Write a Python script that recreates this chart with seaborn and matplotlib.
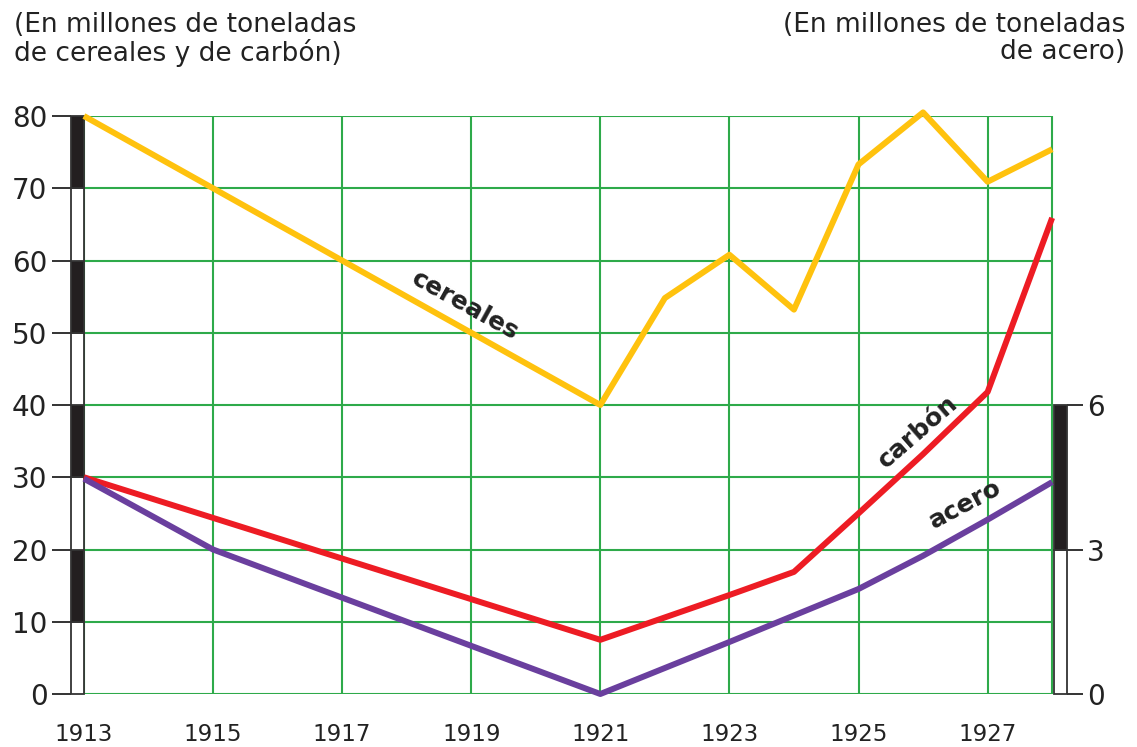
import matplotlib
matplotlib.use('Agg')
import matplotlib.pyplot as plt
import seaborn as sns
import pandas as pd

sns.set_style('white')
plt.rcParams['font.family'] = ['DejaVu Sans']

# Data ------------------------------------------
cereales_years = [1913, 1921, 1922, 1923, 1924, 1925, 1926, 1927, 1928]
cereales = [80, 40, 54.8, 60.8, 53.2, 73.3, 80.5, 70.9, 75.4]

carbon_years = [1913, 1921, 1923, 1924, 1925, 1926, 1927, 1928]
carbon = [30, 7.5, 13.7, 16.9, 25.0, 33.2, 41.8, 65.9]

# steel is read on the right axis (millions of tons)
acero_years = [1913, 1915, 1921, 1923, 1925, 1926, 1927, 1928]
acero = [4.47, 3.0, 0.0, 1.08, 2.18, 2.87, 3.62, 4.4]

year_ticks = [1913, 1915, 1917, 1919, 1921, 1923, 1925, 1927]
left_ticks = [0, 10, 20, 30, 40, 50, 60, 70, 80]
right_ticks = [0, 3, 6]

GREEN = '#2eaa4a'
TXT = '#222222'

df_cer = pd.DataFrame({'year': cereales_years, 'val': cereales})
df_car = pd.DataFrame({'year': carbon_years, 'val': carbon})
df_ace = pd.DataFrame({'year': acero_years, 'val': acero})

fig = plt.figure(figsize=(11.37, 7.47), dpi=100)
ax = fig.add_axes([0.06245, 0.07095, 0.87599, 0.77376])
ax.set_xlim(1912.80, 1928.23)
ax.set_ylim(0, 80)
ax2 = ax.twinx()
ax2.set_ylim(0, 12)

# grid drawn only inside the year range
ax.hlines(left_ticks, 1913, 1928, color=GREEN, lw=1.5, zorder=1)
ax.vlines(year_ticks + [1928], 0, 80, color=GREEN, lw=1.5, zorder=1)

# striped scale bars
seg_bottoms = left_ticks[:-1]
seg_colors = ['white' if i % 2 == 0 else '#231f20' for i in range(len(seg_bottoms))]
ax.bar([1912.9] * len(seg_bottoms), [10] * len(seg_bottoms), bottom=seg_bottoms,
       width=0.2, color=seg_colors, edgecolor='#333333', linewidth=1.3, zorder=3, clip_on=False)
ax2.bar([1928.13, 1928.13], [3, 3], bottom=right_ticks[:2], width=0.2,
        color=['white', '#231f20'], edgecolor='#333333', linewidth=1.3, zorder=3, clip_on=False)

# lines
sns.lineplot(data=df_cer, x='year', y='val', ax=ax, color='#ffc20e', lw=4.3, zorder=4)
sns.lineplot(data=df_car, x='year', y='val', ax=ax, color='#ed1c24', lw=4.3, zorder=4)
sns.lineplot(data=df_ace, x='year', y='val', ax=ax2, color='#6a3f9e', lw=4.3, zorder=4)
for line in ax.get_lines() + ax2.get_lines():
    line.set_clip_on(False)
    line.set_solid_capstyle('butt')

# series labels
ax.text(1918.9, 53.8, 'cereales', rotation=-29, ha='center', va='center',
        fontsize=18, fontweight='bold', color=TXT, zorder=5)
ax.text(1925.92, 36.3, 'carbón', rotation=41, ha='center', va='center',
        fontsize=18, fontweight='bold', color=TXT, zorder=5)
ax.text(1926.65, 26.2, 'acero', rotation=28, ha='center', va='center',
        fontsize=18, fontweight='bold', color=TXT, zorder=5)

# axes styling
for sp in ax.spines.values():
    sp.set_visible(False)
for sp in ax2.spines.values():
    sp.set_visible(False)

ax.set_xticks(year_ticks)
ax.set_xticklabels([str(y) for y in year_ticks])
ax.tick_params(axis='x', length=0, pad=21, labelsize=16.5, labelcolor=TXT)
ax.set_yticks(left_ticks)
ax.tick_params(axis='y', direction='out', length=14, width=1.4, color='#333333',
               pad=3, labelsize=20, labelcolor=TXT, left=True)
ax2.set_yticks(right_ticks)
ax2.tick_params(axis='y', direction='out', length=11.5, width=1.4, color='#333333',
                pad=3, labelsize=20, labelcolor=TXT, right=True)
ax.set_xlabel('')
ax.set_ylabel('')
ax2.set_xlabel('')
ax2.set_ylabel('')

fig.text(14 / 1137, 1 - 12 / 747, '(En millones de toneladas\nde cereales y de carbón)',
         ha='left', va='top', fontsize=19, color=TXT, linespacing=1.05)
fig.text(1125 / 1137, 1 - 12 / 747, '(En millones de toneladas\nde acero)',
         ha='right', va='top', fontsize=19, color=TXT, linespacing=1.05, multialignment='right')

fig.savefig('out.png', dpi=100)
